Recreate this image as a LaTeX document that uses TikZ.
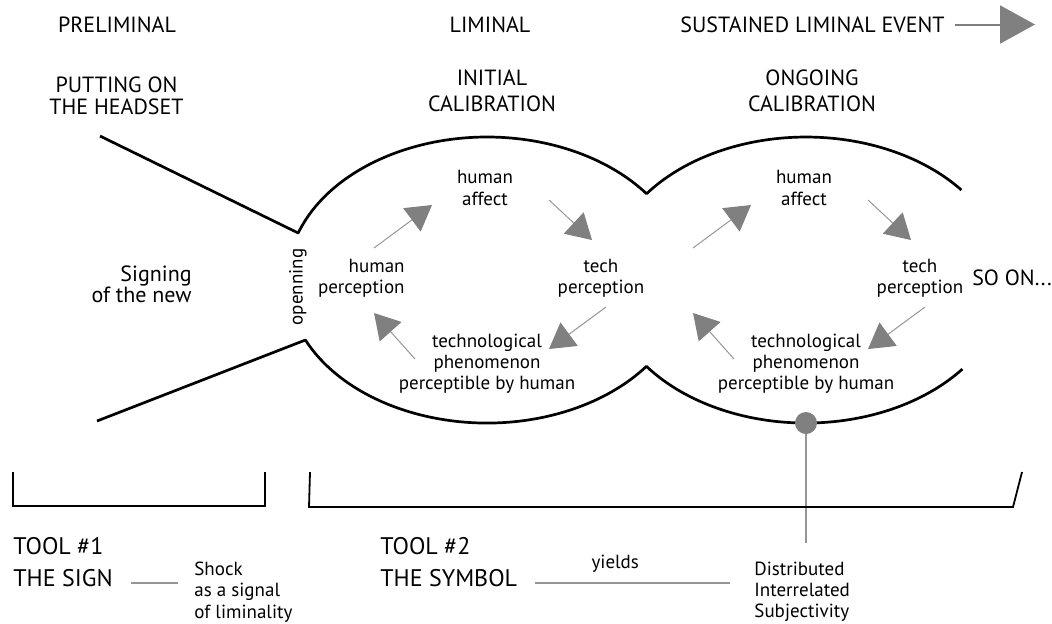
\documentclass[tikz,border=0pt]{standalone}
\usepackage{fontspec}
\setmainfont{PT Sans}
\usetikzlibrary{arrows.meta, positioning, calc}
\definecolor{headgrey}{RGB}{128,128,128}
\definecolor{linkgrey}{RGB}{150,150,150}

\begin{document}
\begin{tikzpicture}[x=0.5pt,y=-0.5pt,
  phase/.style={font=\fontsize{11}{10.8}\selectfont,align=center,inner sep=0pt},
  stage/.style={font=\fontsize{11}{13}\selectfont,align=center,inner sep=0pt},
  tool/.style={font=\fontsize{12}{16}\selectfont,align=left,inner sep=0pt,anchor=west},
  note/.style={font=\fontsize{9.5}{10.6}\selectfont,align=center,inner sep=0pt},
  rim/.style={line width=1.35pt,line join=round},
  bracket/.style={line width=0.9pt},
  link/.style={draw=linkgrey,line width=0.6pt},
  cyc/.style={draw=linkgrey,line width=0.5pt,-{Triangle[length=12.5pt,width=14.5pt,color=headgrey]}}]
  \useasboundingbox (0,0) rectangle (1052,623);

  % headings
  \node[phase] (pre) at (117,24.5) {PRELIMINAL};
  \node[phase] (lim) at (490,24.5) {LIMINAL};
  \node[phase,anchor=east] (sus) at (945,24.5) {SUSTAINED LIMINAL EVENT};
  \coordinate (susend) at (1035,24.5);
  \draw[draw=headgrey,line width=1pt,-{Triangle[length=17.5pt,width=19pt]},color=headgrey] ([xshift=5pt]sus.east) -- (susend);

  \node[phase] (head) at (116.5,95.5) {PUTTING ON\\THE HEADSET};
  \node[stage] (init) at (492,91) {INITIAL\\CALIBRATION};
  \node[stage] (ongo) at (812,91) {ONGOING\\CALIBRATION};

  % funnel and the two loops
  \coordinate (otop) at (298.2,233);
  \coordinate (obot) at (305.4,340);
  \draw[rim] (100,136) -- (otop)
    arc[start angle=160.8,end angle=37.12,x radius=100pt,y radius=71.5pt]
    arc[start angle=142.88,end angle=39,x radius=100pt,y radius=71.5pt];
  \draw[rim] (97,421) -- (obot)
    arc[start angle=204.8,end angle=322.88,x radius=100pt,y radius=71.5pt]
    arc[start angle=217.12,end angle=321.5,x radius=100pt,y radius=71.5pt];

  \node[note,anchor=east,align=right,font=\fontsize{11}{10.4}\selectfont] (sign) at (192,284) {Signing\\of the new};
  \node[note,rotate=90] (open) at (298,287) {openning};
  \node[phase] (soon) at (1012,278) {SO ON...};

  \foreach \k/\cx in {1/487,2/806}{
    \coordinate (c\k) at (\cx,280);
    \node[note] (ha\k) at ($(c\k)+(-2,-92)$) {human\\affect};
    \node[note] (tp\k) at ($(c\k)+(114,-2)$) {tech\\perception};
    \node[note] (tph\k) at ($(c\k)+(0,84)$) {technological\\phenomenon\\perceptible by human};
    \foreach \i/\ax/\ay/\bx/\by in {1/-113/-32/-55/-75,2/62/-80/105/-40,3/119/27/62/69,4/-72/79/-113/33}{
      \coordinate (t\k\i) at ($(c\k)+(\ax,\ay)$);
      \coordinate (h\k\i) at ($(c\k)+(\bx,\by)$);
      \draw[cyc] (t\k\i) -- (h\k\i);
    }
  }
  \node[note,anchor=east,align=right] (hp1) at (405,278) {human\\perception};

  % subjectivity marker
  \node[circle,fill=headgrey,inner sep=0pt,minimum size=11pt] (dot) at (806,423) {};
  \coordinate (dotend) at (806,543);
  \draw[link] (dot) -- (dotend);

  % brackets
  \draw[bracket] (13,472) -- (13,506) -- (265,506) -- (265,472);
  \draw[bracket] (310,472) -- (309,507) -- (1013,507) -- (1022,472);

  % tools
  \node[tool] (sign1) at (13,562.5) {TOOL \#1\\THE SIGN};
  \node[tool] (sym2) at (380,562.5) {TOOL \#2\\THE SYMBOL};
  \node[note,anchor=west,align=left] (shock) at (194,592) {Shock\\as a signal\\of liminality};
  \node[note,anchor=west,align=left] (dis) at (754,592) {Distributed\\Interrelated\\Subjectivity};
  \coordinate (signend) at (178,583);
  \coordinate (symend) at (730,583);
  \draw[link] (sign1.east |- signend) ++(18,0) -- (signend);
  \draw[link] ([xshift=9pt]sym2.east |- symend) -- node[pos=0.41,above=5pt,note,font=\fontsize{9.5}{10}\selectfont] (yld) {yields} (symend);
\end{tikzpicture}
\end{document}
